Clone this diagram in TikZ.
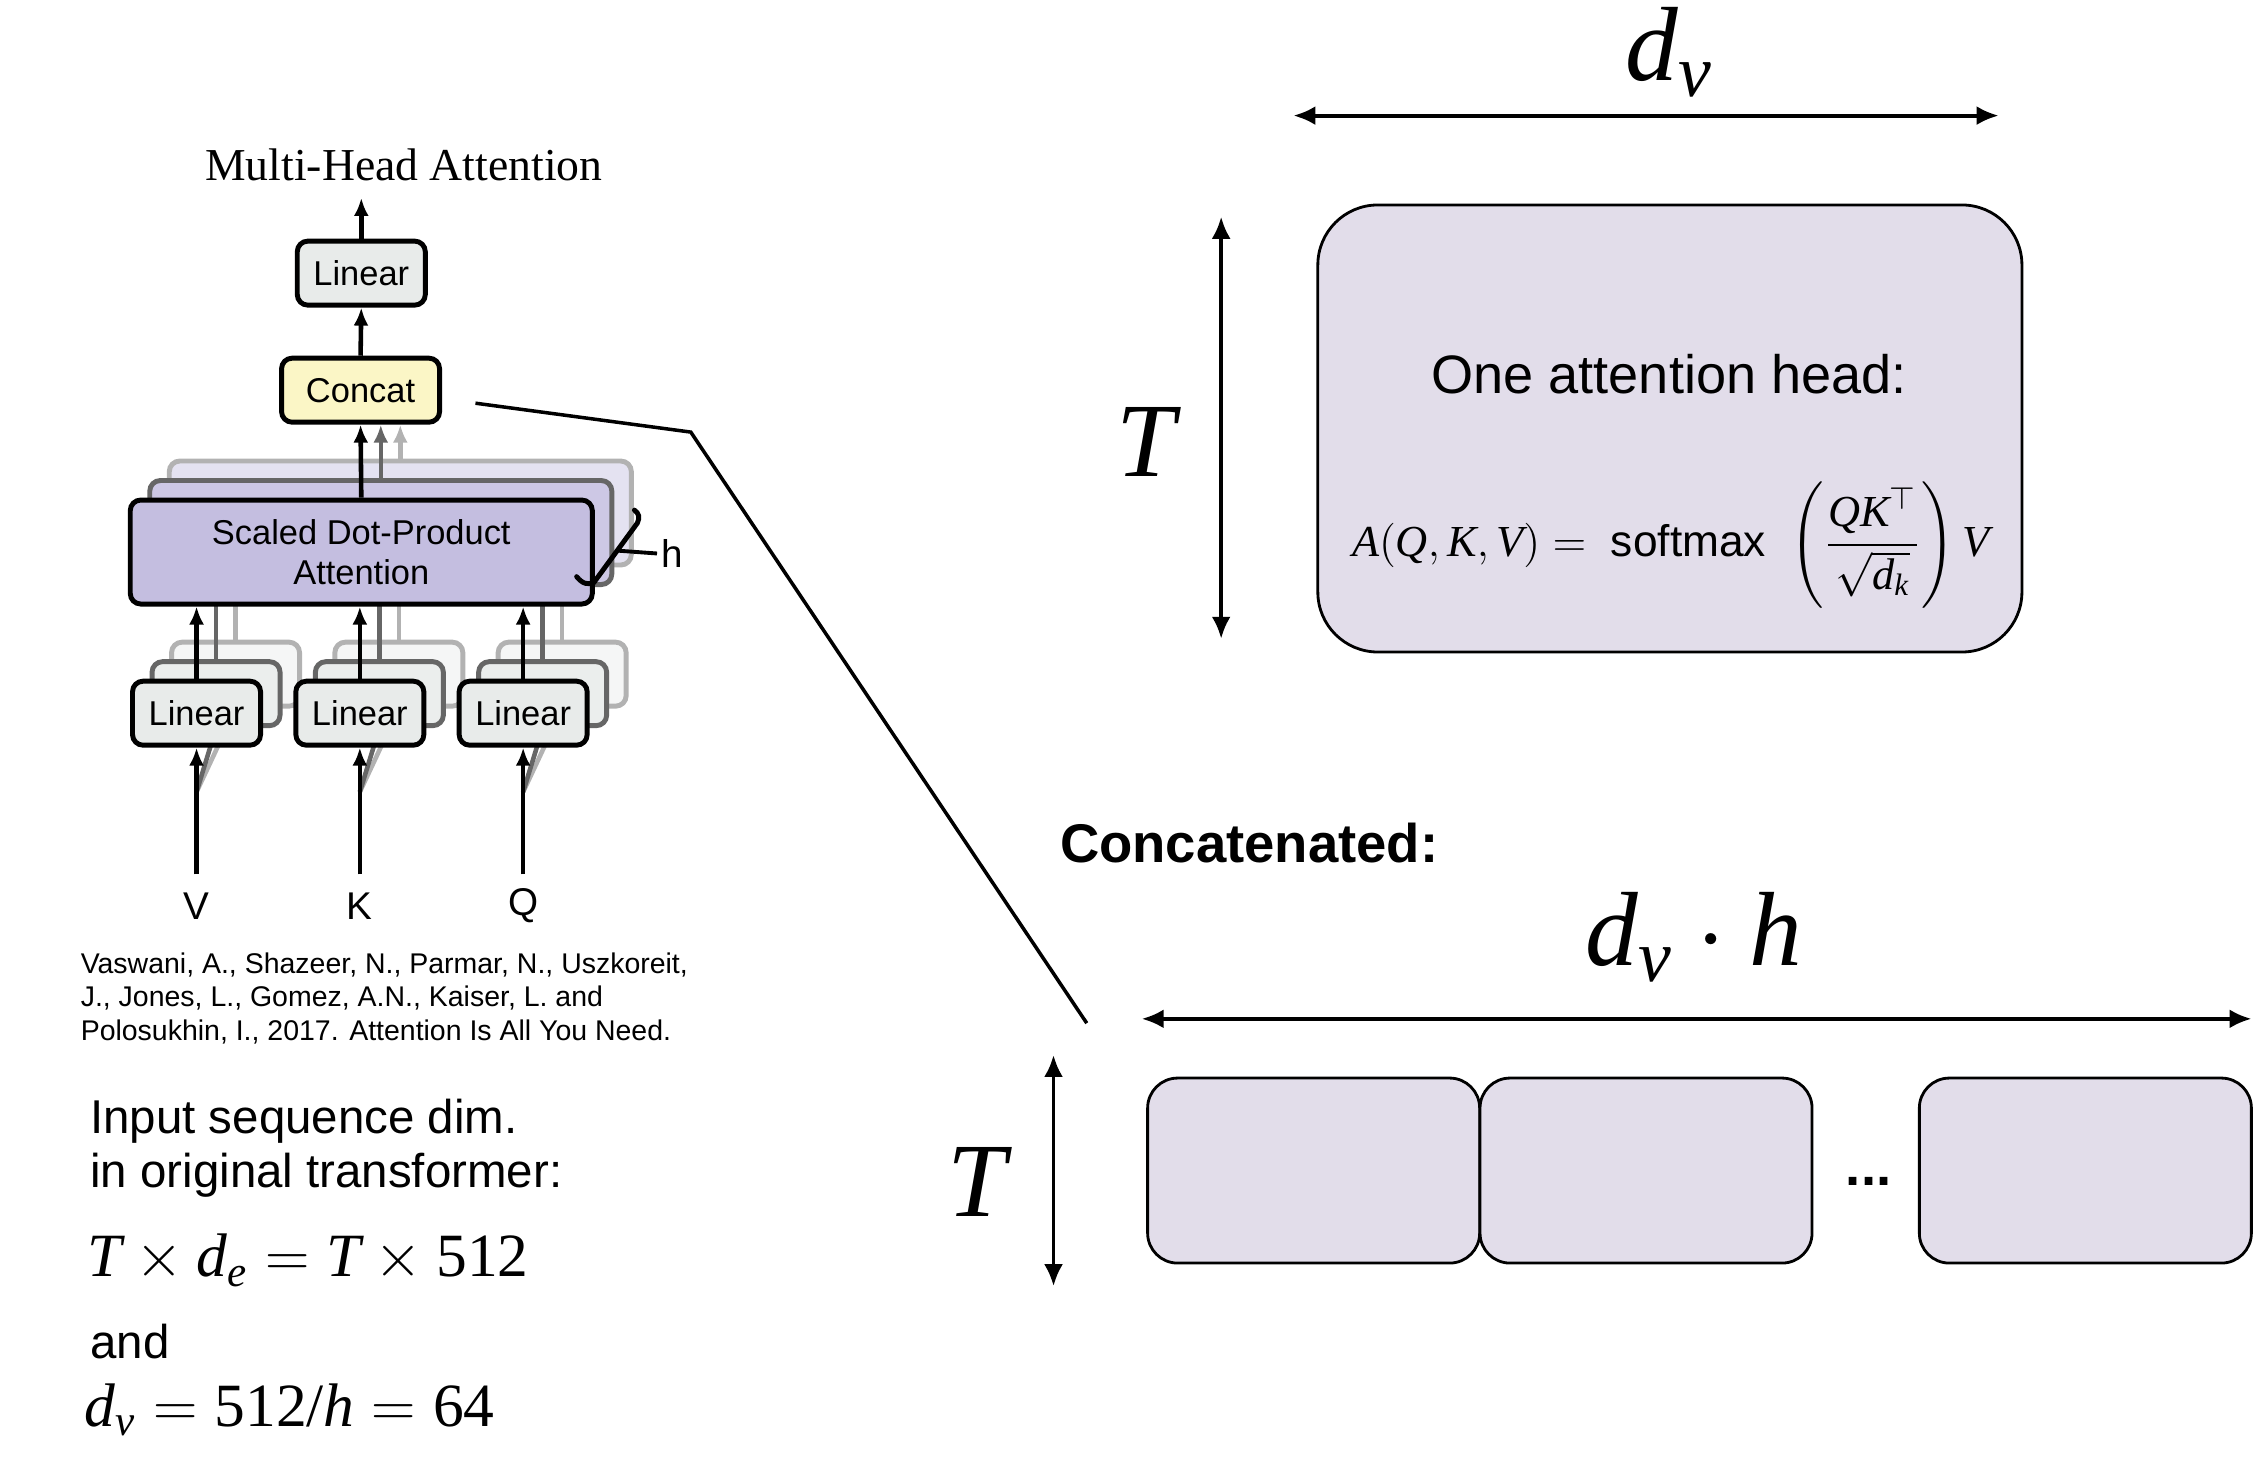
\documentclass[tikz,border=0pt]{standalone}
\usepackage{fix-cm}
\usepackage{amsmath}
\usepackage{fontspec}
\setmainfont{Liberation Sans}
\newfontfamily\tms{Liberation Serif}
\usetikzlibrary{arrows.meta, positioning}
\newcommand{\mv}[1]{\text{\tms\itshape #1}}
\definecolor{LinGray}{HTML}{E8EBEA}
\definecolor{ConcatYel}{HTML}{FBF6C6}
\definecolor{SdpaLilac}{HTML}{C4BEE0}
\definecolor{HeadLilac}{HTML}{E2DDEA}
\tikzstyle{linear_box}=[rectangle,
        rounded corners=3pt,
        draw=black,
        line width=1.4pt,
        fill=LinGray,
        minimum width=1.28cm,
        minimum height=0.64cm,
        inner sep=0pt,
        font=\fontsize{9.8}{11.5}\selectfont, ]
\tikzstyle{sdpa_box}=[linear_box,
        fill=SdpaLilac,
        minimum width=4.62cm,
        minimum height=1.04cm,
        align=center, ]
\tikzstyle{head_box}=[rectangle,
        rounded corners=0.6cm,
        draw=black,
        line width=0.8pt,
        fill=HeadLilac, ]
\tikzstyle{part_box}=[head_box,
        rounded corners=0.3cm,
        minimum width=3.32cm,
        minimum height=1.85cm, ]
\tikzstyle{flow_arrow}=[-{Latex[length=0.18cm,width=0.15cm]}, line width=1.3pt]
\tikzstyle{dim_arrow}=[{Latex[length=0.22cm,width=0.19cm]}-{Latex[length=0.22cm,width=0.19cm]}, line width=1.1pt]
\tikzstyle{big_math}=[font=\fontsize{30}{34}\selectfont, inner sep=0pt]
\tikzstyle{eq_math}=[font=\fontsize{17.5}{20}\selectfont, inner sep=0pt]
\tikzstyle{note_text}=[font=\fontsize{13.5}{15.6}\selectfont, inner sep=0pt, align=left]

\begin{document}
\begin{tikzpicture}[x=0.014452cm, y=-0.014452cm]
\useasboundingbox (0,0) rectangle (1568,1012);

\node at (279.5,125) [anchor=base, inner sep=0pt, font=\tms\fontsize{13}{15}\selectfont] (title) {Multi-Head Attention};
\coordinate (out) at (250,137);
\node at (250,189) (lin_out) [linear_box] {Linear};
\node at (249.5,270) (concat) [linear_box, fill=ConcatYel, minimum width=1.58cm] {Concat};
\draw[flow_arrow] (lin_out.north) -- (out);
\draw[flow_arrow] (concat.north) -- (lin_out.south);

    \foreach \nm/\xx in {V/136, K/249, Q/362} {
        \coordinate (fork\nm) at (\xx,548);
        \coordinate (in\nm) at (\xx,605);
    }

    \foreach \k/\dc/\fc in {2/30/45, 1/60/85} {
        \node at (250+13.5*\k, 382-13.5*\k) (sdpa\k) [sdpa_box, draw=black!\dc, fill=SdpaLilac!\fc] {};
        \draw[flow_arrow, draw=black!\dc] (sdpa\k.north) -- (sdpa\k.north |- concat.south);
        \foreach \nm/\xx in {V/136, K/249, Q/362} {
            \node at (\xx+13.5*\k, 493.5-13.5*\k) (lin\nm\k) [linear_box, draw=black!\dc, fill=LinGray!\fc] {};
            \draw[flow_arrow, draw=black!\dc] (lin\nm\k.north) -- (lin\nm\k.north |- sdpa\k.south);
            \draw[flow_arrow, draw=black!\dc] (fork\nm) -- (lin\nm\k.south);
        }
    }

\node at (250,382) (sdpa0) [sdpa_box] {Scaled Dot-Product\\Attention};
\draw[flow_arrow] (sdpa0.north) -- (concat.south);
    \foreach \nm/\xx in {V/136, K/249, Q/362} {
        \node at (\xx, 493.5) (lin\nm0) [linear_box] {Linear};
        \draw[flow_arrow] (lin\nm0.north) -- (lin\nm0.north |- sdpa0.south);
        \draw[flow_arrow] (in\nm) -- (lin\nm0.south);
        \node at (\xx,627) (lab\nm) [font=\fontsize{11}{13}\selectfont] {\nm};
    }

\node at (465,383) (h_lab) [font=\fontsize{11}{13}\selectfont, inner sep=1pt] {h};
\coordinate (brace_mid) at (427,381);
\draw[line width=1.4pt, line cap=round] (399,399) .. controls (403,404) and (407,405) .. (411,403) -- (441,362) .. controls (443,358) and (442,355) .. (439,353);
\draw[line width=1.1pt] (brace_mid) -- (h_lab.west);

\node at (55.4,719.7) [anchor=base west, inner sep=0pt, align=left, font=\fontsize{8.1}{9.45}\selectfont] (cite) {Vaswani, A., Shazeer, N., Parmar, N., Uszkoreit,\\J., Jones, L., Gomez, A.N., Kaiser, L. and\\Polosukhin, I., 2017. Attention Is All You Need.};
\node at (62,822) [anchor=base west, note_text] (input_note) {Input sequence dim.\\in original transformer:};
\node at (60,883.5) [anchor=base west, eq_math] (te_eq) {$\mv{T}\times\mv{d}_{\mv{e}}=\mv{T}\times\text{\tms 512}$};
\node at (62,940) [anchor=base west, note_text] (and_note) {and};
\node at (58,987) [anchor=base west, eq_math] (dv_eq) {$\mv{d}_{\mv{v}}=\text{\tms 512/}\mv{h}=\text{\tms 64}$};

\coordinate (zoom_a) at (329,279);
\coordinate (zoom_b) at (478,299);
\coordinate (zoom_c) at (752,708);
\draw[line width=1pt] (zoom_a) -- (zoom_b) -- (zoom_c);

\node at (1155.5,296.5) (head) [head_box, minimum width=7.04cm, minimum height=4.47cm] {};
\node at (1155,272) [anchor=base, inner sep=0pt, font=\fontsize{15.4}{18}\selectfont] (head_title) {One attention head:};
\node at (1156,385) [anchor=base, inner sep=0pt, font=\fontsize{12.6}{15}\selectfont] (head_formula) {$\mv{A}(\mv{Q},\mv{K},\mv{V})=$\ \ softmax\ \ $\left(\dfrac{\mv{QK}^{\top}}{\sqrt{\mv{d}_{\mv{k}}}}\right)\mv{V}$};

\coordinate (dv_l) at (895,80);
\coordinate (dv_r) at (1383,80);
\draw[dim_arrow] (dv_l) -- (dv_r);
\node at (1155,56) [anchor=base, big_math] (dv_lab) {$\mv{d}_{\mv{v}}$};
\coordinate (t_top) at (845,150);
\coordinate (t_bot) at (845,442);
\draw[dim_arrow] (t_top) -- (t_bot);
\node at (793,330) [anchor=base, big_math] (t_lab) {$\mv{T}$};

\node at (733,597) [anchor=base west, inner sep=0pt, font=\bfseries\fontsize{15.5}{18}\selectfont] (concat_title) {Concatenated:};
\node at (1172,668) [anchor=base, big_math] (dvh_lab) {$\mv{d}_{\mv{v}}\cdot\mv{h}$};
\coordinate (dvh_l) at (790,705);
\coordinate (dvh_r) at (1558,705);
\draw[dim_arrow] (dvh_l) -- (dvh_r);
\coordinate (tc_top) at (729,730);
\coordinate (tc_bot) at (729,890);
\draw[dim_arrow] (tc_top) -- (tc_bot);
\node at (676,842) [anchor=base, big_math] (tc_lab) {$\mv{T}$};

    \foreach \nm/\xx in {1/909, 2/1139, 3/1443} {
        \node at (\xx,810) (part\nm) [part_box] {};
    }
\node at (1293,820) [anchor=base, inner sep=0pt, font=\bfseries\fontsize{15.5}{18}\selectfont] (dots) {...};

\end{tikzpicture}
\end{document}
